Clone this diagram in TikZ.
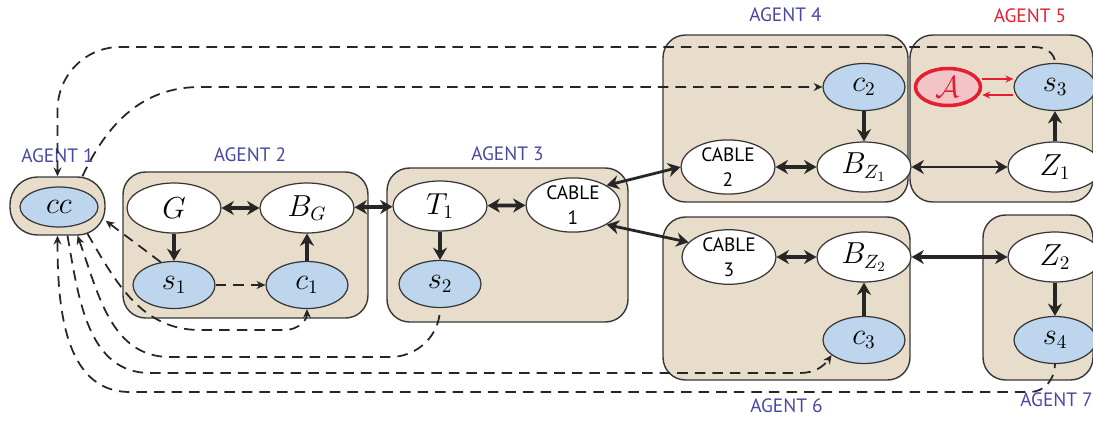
\documentclass[tikz,border=0pt]{standalone}
\usepackage{fontspec}
\setsansfont{PT Sans}
\usetikzlibrary{positioning,shapes.geometric,arrows.meta,calc}
\definecolor{agentbg}{RGB}{232,220,203}
\definecolor{meterbg}{RGB}{189,214,238}
\definecolor{agentblue}{RGB}{72,72,160}
\definecolor{attackred}{RGB}{228,32,48}
\definecolor{attackbg}{RGB}{242,196,200}
\definecolor{rim}{RGB}{55,55,55}

\begin{document}
\begin{tikzpicture}[x=0.02cm, y=-0.02cm,
        agentbox/.style = {draw=rim, line width=0.8pt, fill=agentbg, rounded corners=0.45cm, inner sep=0},
        tag/.style = {font=\sffamily\fontsize{11}{13}\selectfont, text=agentblue, inner sep=0},
        var/.style = {ellipse, draw=rim, line width=0.7pt, fill=white, minimum width=1.88cm, minimum height=1cm, inner sep=0, font=\fontsize{16}{18}\selectfont},
        meter/.style = {var, fill=meterbg, minimum width=1.64cm, minimum height=0.94cm},
        cable/.style = {var, align=center, font=\sffamily\fontsize{11}{14}\selectfont},
        attacker/.style = {var, draw=attackred, line width=2pt, fill=attackbg, text=attackred, minimum width=1.3cm, minimum height=0.74cm},
        flow/.style = {line width=2.2pt, draw=black!85, >={Stealth[length=7pt,width=8pt]}},
        link/.style = {flow, line width=1.6pt},
        ctrl/.style = {line width=1pt, draw=black!85, dash pattern=on 6pt off 4pt, >={Stealth[length=5pt,width=4.5pt]}},
        attack/.style = {draw=attackred, line width=1pt, >={Stealth[length=4.5pt,width=4pt]}}]
    \path[use as bounding box] (0,0) rectangle (1093,420);
    \clip (0,0) rectangle (1093,420);
    % agents
    \node (agent1) [agentbox, rounded corners=0.55cm, minimum width=1.9cm, minimum height=1.16cm] at (57.5,206) {};
    \node (agent2) [agentbox, minimum width=4.9cm, minimum height=2.92cm] at (245.5,245) {};
    \node (agent3) [agentbox, minimum width=4.82cm, minimum height=3.08cm] at (507.5,245) {};
    \node (agent4) [agentbox, minimum width=4.9cm, minimum height=3.34cm] at (785.5,118.5) {};
    \node (agent5) [agentbox, minimum width=3.66cm, minimum height=3.34cm] at (1001.5,118.5) {};
    \node (agent6) [agentbox, minimum width=4.94cm, minimum height=3.26cm] at (786.5,298.5) {};
    \node (agent7) [agentbox, minimum width=2.2cm, minimum height=3.3cm] at (1038,297.5) {};
    \node (tag1) [tag, above=0.26cm of agent1] {AGENT 1};
    \node (tag2) [tag, above=0.18cm of agent2, xshift=0.09cm] {AGENT 2};
    \node (tag3) [tag, above=0.12cm of agent3] {AGENT 3};
    \node (tag4) [tag, above=0.24cm of agent4] {AGENT 4};
    \node (tag5) [tag, text=attackred] at (1030,16) {AGENT 5};
    \node (tag6) [tag, below=0.36cm of agent6] {AGENT 6};
    \node (tag7) [tag, anchor=west] at (1020,400) {AGENT 7};
    % physical layer
    \node (cc) [meter, minimum width=1.56cm, minimum height=0.8cm] at (59,207) {$cc$};
    \node (G) [var] at (174,208) {$G$};
    \node (BG) [var] at (307,208) {$B_G$} edge [flow,<->] (G);
    \node (s1) [meter] at (174,285) {$s_1$} edge [flow,<-] (G);
    \node (c1) [meter] at (307,285) {$c_1$} edge [flow,->] (BG);
    \node (T1) [var] at (440,206) {$T_1$} edge [flow,<->] (BG);
    \node (cable1) [cable] at (573,205) {CABLE\\1} edge [flow,<->] (T1);
    \node (s2) [meter] at (440,284) {$s_2$} edge [flow,<-] (T1);
    \node (cable2) [cable] at (728,167) {CABLE\\2};
    \node (BZ1) [var] at (864,167) {$B_{Z_1}$} edge [flow,<->] (cable2);
    \node (c2) [meter] at (864,87) {$c_2$} edge [flow,->] (BZ1);
    \node (Z1) [var] at (1055,167) {$Z_1$} edge [link,<->] (BZ1);
    \node (s3) [meter] at (1055,87) {$s_3$} edge [flow,<-] (Z1);
    \node (A) [attacker] at (948,87) {$\mathcal{A}$};
    \node (cable3) [cable] at (729,257) {CABLE\\3};
    \node (BZ2) [var] at (864,257) {$B_{Z_2}$} edge [flow,<->] (cable3);
    \node (c3) [meter] at (864,340) {$c_3$} edge [flow,->] (BZ2);
    \node (Z2) [var] at (1055,257) {$Z_2$} edge [flow,<->] (BZ2);
    \node (s4) [meter] at (1055,340) {$s_4$} edge [flow,<-] (Z2);
    \draw[link,<->] (cable1.north east) -- (cable2.west);
    \draw[link,<->] (cable1.south east) -- (cable3.160);
    \draw[attack,->] ([yshift=0.16cm]A.east) -- ([yshift=0.16cm]s3.west);
    \draw[attack,->] ([yshift=-0.16cm]s3.west) -- ([yshift=-0.16cm]A.east);
    % cyber layer
    \draw[ctrl,->] (s1.east) -- (c1.west);
    \draw[ctrl,->] (s1.120) -- (agent1.-17);
    \draw[ctrl,<-] (agent1.north) -- (57.5,110) to[out=90,in=180] (120,47) -- (1035,47) to[out=0,in=90] (s3.north);
    \draw[ctrl,->] (agent1.50) to[out=65,in=180] (200,87) -- (c2.west);
    \draw[ctrl,->] ($(agent1.south)+(30,-2)$) to[out=-60,in=180] (200,330) -- (285,330) to[out=0,in=-90] (c1.south);
    \draw[ctrl,<-] ($(agent1.south)+(20,0)$) to[out=-70,in=180] (170,357) -- (390,357) to[out=0,in=-90] (s2.south);
    \draw[ctrl,->] ($(agent1.south)+(10,0)$) to[out=-80,in=180] (150,373) -- (800,373) to[out=0,in=-125] (c3.-155);
    \draw[ctrl,<-] (agent1.south) to[out=-90,in=180] (130,392) -- (1030,392) to[out=0,in=-90] (s4.south);
\end{tikzpicture}
\end{document}
